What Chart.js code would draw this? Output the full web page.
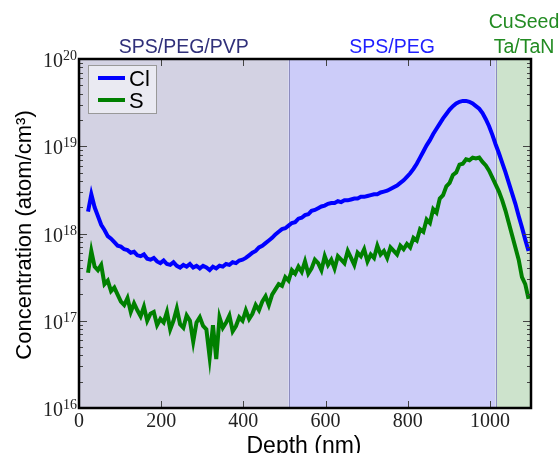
<!DOCTYPE html>
<html>
<head>
<meta charset="utf-8">
<script src="https://cdn.jsdelivr.net/npm/chart.js@4.4.1/dist/chart.umd.min.js"></script>
<style>
  html, body { margin: 0; padding: 0; background: #fff; }
  #wrap { width: 560px; height: 453px; position: relative; }
</style>
</head>
<body>
<div id="wrap"><canvas id="c"></canvas></div>
<script>
// depth in nm
const depth = [
  22,30,38,46,54,62,70,78,86,94,102,110,118,126,134,
  142,150,158,166,174,182,190,198,206,214,222,230,238,246,254,
  262,270,278,286,294,302,310,318,326,334,342,350,358,366,374,
  382,390,398,406,414,422,430,438,446,454,462,470,478,486,494,
  502,510,518,526,534,542,550,558,566,574,582,590,598,606,614,
  622,630,638,646,654,662,670,678,686,694,702,710,718,726,734,
  742,750,758,766,774,782,790,798,806,814,822,830,838,846,854,
  862,870,878,886,894,902,910,918,926,934,942,950,958,966,974,
  982,990,998,1006,1014,1022,1030,1038,1046,1054,1062,1070,1078,1086,1094
];
// log10 of concentration (atom/cm3)
const clLog = [
  18.25,18.45,18.30,18.20,18.10,18.04,17.97,17.94,17.90,17.86,17.85,17.82,17.81,17.78,17.79,
  17.75,17.74,17.76,17.71,17.70,17.72,17.68,17.66,17.69,17.65,17.64,17.67,17.63,17.61,17.64,
  17.62,17.65,17.61,17.63,17.60,17.63,17.61,17.58,17.62,17.60,17.63,17.62,17.65,17.64,17.67,
  17.66,17.69,17.70,17.72,17.75,17.78,17.80,17.84,17.86,17.89,17.92,17.95,17.99,18.02,18.05,
  18.06,18.09,18.12,18.13,18.17,18.18,18.21,18.22,18.26,18.27,18.29,18.31,18.32,18.34,18.35,
  18.35,18.37,18.36,18.38,18.38,18.39,18.40,18.40,18.42,18.42,18.43,18.44,18.45,18.45,18.47,
  18.48,18.49,18.51,18.53,18.55,18.58,18.61,18.65,18.69,18.74,18.80,18.87,18.94,19.01,19.07,
  19.14,19.20,19.26,19.32,19.37,19.42,19.46,19.49,19.51,19.52,19.52,19.51,19.49,19.46,19.43,
  19.38,19.31,19.23,19.13,19.02,18.92,18.81,18.70,18.58,18.46,18.34,18.20,18.07,17.93,17.80
];
const sLog = [
  17.55,17.80,17.62,17.58,17.64,17.42,17.46,17.34,17.38,17.30,17.22,17.18,17.26,17.10,17.20,
  17.12,17.05,17.16,17.00,17.08,17.10,16.95,17.02,16.98,17.10,16.90,17.00,17.14,16.96,16.92,
  17.06,17.00,16.76,16.98,17.04,16.94,16.90,16.58,16.95,16.56,17.04,16.92,16.98,17.06,16.88,
  16.94,17.04,17.00,17.12,17.02,17.08,17.18,17.12,17.22,17.28,17.18,17.30,17.36,17.42,17.40,
  17.50,17.46,17.58,17.54,17.62,17.56,17.68,17.54,17.60,17.70,17.66,17.58,17.74,17.64,17.70,
  17.60,17.74,17.70,17.66,17.80,17.72,17.64,17.78,17.74,17.82,17.68,17.76,17.72,17.86,17.76,
  17.80,17.72,17.84,17.80,17.76,17.86,17.82,17.88,17.84,17.95,17.92,18.05,18.02,18.16,18.12,
  18.28,18.24,18.40,18.44,18.54,18.58,18.67,18.70,18.79,18.80,18.85,18.84,18.87,18.86,18.87,
  18.82,18.78,18.72,18.64,18.56,18.48,18.38,18.26,18.12,17.98,17.84,17.70,17.50,17.42,17.25
];

const seriesNames = ['Cl', 'S'];
const seriesColors = ['#0000ff', '#008000'];

// layer regions (nm)
const regionEdges = [0, 510, 1014, 1100];
const regionColors = ['#d3d2e3', '#ccccf9', '#cde3cc'];
const regionLabels = [['SPS/PEG/PVP'], ['SPS/PEG'], ['CuSeed', 'Ta/TaN']];
const regionLabelColors = ['#30307a', '#1f1fff', '#228b22'];

const xTicks = [0, 200, 400, 600, 800, 1000];
const yDecades = [16, 17, 18, 19, 20];

const toPoints = (logs) => depth.map((d, i) => ({ x: d, y: Math.pow(10, logs[i]) }));

const decor = {
  id: 'decor',
  beforeDraw(chart) {
    const { ctx, chartArea: a, scales: { x } } = chart;
    ctx.save();
    ctx.fillStyle = '#fff';
    ctx.fillRect(0, 0, chart.width, chart.height);
    for (let i = 0; i < regionColors.length; i++) {
      const x0 = x.getPixelForValue(regionEdges[i]);
      const x1 = x.getPixelForValue(regionEdges[i + 1]);
      ctx.fillStyle = regionColors[i];
      ctx.fillRect(x0, a.top, x1 - x0, a.bottom - a.top);
    }
    ctx.strokeStyle = '#8c8cc0';
    ctx.lineWidth = 1;
    [1, 2].forEach(i => {
      const px = Math.round(x.getPixelForValue(regionEdges[i])) + 0.5;
      ctx.beginPath();
      ctx.moveTo(px, a.top);
      ctx.lineTo(px, a.bottom);
      ctx.stroke();
    });
    ctx.restore();
  },
  afterDatasetsDraw(chart) {
    const { ctx, chartArea: a, scales: { x, y } } = chart;
    ctx.save();

    // ticks (inside)
    ctx.strokeStyle = '#444';
    ctx.lineWidth = 1;
    xTicks.forEach(v => {
      const px = Math.round(x.getPixelForValue(v)) + 0.5;
      ctx.beginPath();
      ctx.moveTo(px, a.bottom); ctx.lineTo(px, a.bottom - 7);
      ctx.moveTo(px, a.top); ctx.lineTo(px, a.top + 7);
      ctx.stroke();
    });
    for (let d = 16; d < 20; d++) {
      for (let m = 1; m <= 9; m++) {
        const py = Math.round(y.getPixelForValue(m * Math.pow(10, d))) + 0.5;
        const len = m === 1 ? 8 : 4;
        ctx.beginPath();
        ctx.moveTo(a.left, py); ctx.lineTo(a.left + len, py);
        ctx.moveTo(a.right, py); ctx.lineTo(a.right - len, py);
        ctx.stroke();
      }
    }

    // frame
    ctx.strokeStyle = '#000';
    ctx.lineWidth = 2.5;
    ctx.strokeRect(a.left, a.top, a.right - a.left, a.bottom - a.top);

    // x tick labels
    ctx.fillStyle = '#222';
    ctx.font = '20px "Liberation Serif", "DejaVu Serif", serif';
    ctx.textAlign = 'center';
    ctx.textBaseline = 'alphabetic';
    xTicks.forEach(v => ctx.fillText(String(v), x.getPixelForValue(v), a.bottom + 19));

    // y tick labels 10^n
    yDecades.forEach(d => {
      const py = y.getPixelForValue(Math.pow(10, d));
      const sup = String(d);
      ctx.font = '14px "Liberation Serif", "DejaVu Serif", serif';
      const supW = ctx.measureText(sup).width;
      ctx.textAlign = 'left';
      ctx.fillText(sup, a.left - 2 - supW, py + 1);
      ctx.font = '20px "Liberation Serif", "DejaVu Serif", serif';
      ctx.textAlign = 'right';
      ctx.fillText('10', a.left - 2 - supW, py + 8);
    });

    // axis titles
    ctx.fillStyle = '#000';
    ctx.textAlign = 'center';
    ctx.font = '23px "Liberation Sans", Arial, sans-serif';
    ctx.fillText('Depth (nm)', (a.left + a.right) / 2 - 1, 453);
    ctx.font = '22px "Liberation Sans", Arial, sans-serif';
    ctx.save();
    ctx.translate(31, 235);
    ctx.rotate(-Math.PI / 2);
    ctx.fillText('Concentration (atom/cm\u00b3)', 0, 0);
    ctx.restore();

    // region labels
    ctx.font = '19.5px "Liberation Sans", Arial, sans-serif';
    for (let i = 0; i < regionLabels.length; i++) {
      ctx.fillStyle = regionLabelColors[i];
      const lines = regionLabels[i];
      let cx = (x.getPixelForValue(regionEdges[i]) + x.getPixelForValue(regionEdges[i + 1])) / 2;
      if (i === 2) cx = 524;
      lines.forEach((t, j) => {
        ctx.fillText(t, cx, a.top - 6 - (lines.length - 1 - j) * 25);
      });
    }

    // legend
    ctx.fillStyle = 'rgba(235,235,242,0.95)';
    ctx.fillRect(88, 65, 68, 48);
    ctx.strokeStyle = '#999';
    ctx.lineWidth = 1;
    ctx.strokeRect(88.5, 65.5, 68, 48);
    ctx.font = '22px "Liberation Sans", Arial, sans-serif';
    ctx.textAlign = 'left';
    seriesNames.forEach((n, i) => {
      const ly = 78 + i * 22;
      ctx.strokeStyle = seriesColors[i];
      ctx.lineWidth = 4;
      ctx.beginPath();
      ctx.moveTo(98, ly); ctx.lineTo(125, ly);
      ctx.stroke();
      ctx.fillStyle = '#000';
      ctx.fillText(n, 129, ly + 8);
    });

    ctx.restore();
  }
};

new Chart(document.getElementById('c'), {
  type: 'line',
  data: {
    datasets: [
      { label: seriesNames[0], data: toPoints(clLog), borderColor: seriesColors[0], borderWidth: 4, pointRadius: 0, tension: 0, clip: 0 },
      { label: seriesNames[1], data: toPoints(sLog), borderColor: seriesColors[1], borderWidth: 4, pointRadius: 0, tension: 0, clip: 0 }
    ]
  },
  options: {
    responsive: true,
    maintainAspectRatio: false,
    animation: false,
    devicePixelRatio: 1,
    layout: { padding: { left: 79, right: 29, top: 59, bottom: 45 } },
    plugins: { legend: { display: false }, tooltip: { enabled: false } },
    scales: {
      x: { type: 'linear', min: 0, max: 1100, display: false },
      y: { type: 'logarithmic', min: 1e16, max: 1e20, display: false }
    }
  },
  plugins: [decor]
});
</script>
</body>
</html>
